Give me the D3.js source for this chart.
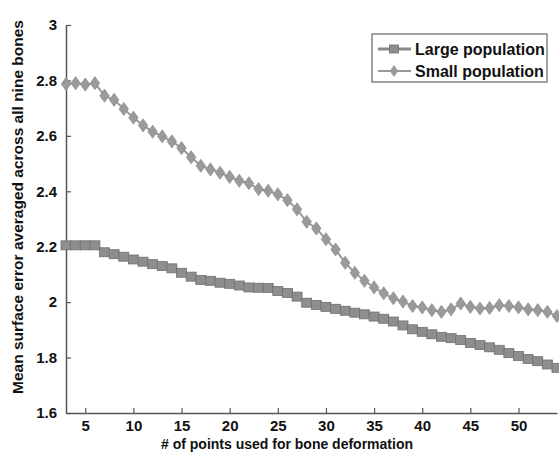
<!DOCTYPE html>
<html lang="en">
<head>
<meta charset="utf-8">
<title>Mean surface error</title>
<script src="https://cdnjs.cloudflare.com/ajax/libs/d3/7.8.5/d3.min.js"></script>
<style>
  body { margin: 0; background: #fff; }
  text { font-family: "Liberation Sans", Arial, sans-serif; font-weight: bold; fill: #111; }
</style>
</head>
<body>
<svg id="canvas" width="559" height="453"></svg>
<script>
// number of points used, 3..54
const points = d3.range(3, 55);

const largePop = [2.205, 2.205, 2.205, 2.205, 2.180, 2.173, 2.164, 2.154, 2.146, 2.137,
  2.130, 2.122, 2.106, 2.092, 2.080, 2.077, 2.070, 2.066, 2.060, 2.053,
  2.052, 2.051, 2.040, 2.033, 2.020, 1.998, 1.990, 1.983, 1.976, 1.969,
  1.962, 1.956, 1.948, 1.940, 1.930, 1.916, 1.902, 1.893, 1.884, 1.875,
  1.870, 1.863, 1.853, 1.845, 1.837, 1.828, 1.816, 1.806, 1.795, 1.787,
  1.775, 1.763];

const smallPop = [2.787, 2.790, 2.785, 2.790, 2.745, 2.730, 2.697, 2.666, 2.638, 2.615,
  2.598, 2.580, 2.556, 2.523, 2.492, 2.479, 2.467, 2.452, 2.438, 2.429,
  2.408, 2.402, 2.389, 2.368, 2.335, 2.290, 2.266, 2.227, 2.190, 2.142,
  2.106, 2.077, 2.053, 2.032, 2.014, 2.002, 1.986, 1.981, 1.971, 1.965,
  1.974, 1.995, 1.983, 1.977, 1.979, 1.989, 1.986, 1.981, 1.974, 1.971,
  1.965, 1.950];

const xTicks = [5, 10, 15, 20, 25, 30, 35, 40, 45, 50];
const yTicks = [1.6, 1.8, 2, 2.2, 2.4, 2.6, 2.8, 3];
const seriesNames = ["Large population", "Small population"];

const svg = d3.select("#canvas");

const x = d3.scaleLinear().domain([3, 54]).range([66, 557]);
const y = d3.scaleLinear().domain([1.6, 3]).range([413, 25]);

// axes (ticks pointing inward, matlab style)
const xAxis = d3.axisBottom(x).tickValues(xTicks).tickSizeInner(-5).tickSizeOuter(0).tickPadding(10);
const yAxis = d3.axisLeft(y).tickValues(yTicks).tickSizeInner(-5).tickSizeOuter(0).tickPadding(9)
  .tickFormat(d => d3.format("")(+d.toFixed(1)));

const gx = svg.append("g").attr("transform", "translate(0,413)").call(xAxis);
const gy = svg.append("g").attr("transform", "translate(66,0)").call(yAxis);
[gx, gy].forEach(g => {
  g.select(".domain").attr("stroke", "#555").attr("stroke-width", 1.5);
  g.selectAll(".tick line").attr("stroke", "#555").attr("stroke-width", 1.2);
  g.selectAll(".tick text").attr("font-size", 15).attr("fill", "#111")
    .attr("font-family", "Liberation Sans, Arial, sans-serif").attr("font-weight", "bold");
});
gx.selectAll(".tick text").attr("dy", "0.5em");

// axis titles
svg.append("text").attr("x", 287).attr("y", 449).attr("text-anchor", "middle")
  .attr("font-size", 14).text("# of points used for bone deformation");
svg.append("text").attr("transform", "translate(23,207) rotate(-90)").attr("text-anchor", "middle")
  .attr("font-size", 15.5).text("Mean surface error averaged across all nine bones");

const line = d3.line().x((d, i) => x(points[i])).y(d => y(d));

// large population: thick line, square markers
svg.append("path").datum(largePop).attr("d", line)
  .attr("fill", "none").attr("stroke", "#8a8a8a").attr("stroke-width", 3);
svg.append("g").selectAll("rect").data(largePop).join("rect")
  .attr("x", (d, i) => x(points[i]) - 5).attr("y", d => y(d) - 4.5)
  .attr("width", 10).attr("height", 9)
  .attr("fill", "#8e8e8e").attr("stroke", "#707070").attr("stroke-width", 0.8);

// small population: thin line, diamond markers
const diamond = d3.symbol().type(d3.symbolDiamond).size(50);
svg.append("path").datum(smallPop).attr("d", line)
  .attr("fill", "none").attr("stroke", "#999").attr("stroke-width", 2);
svg.append("g").selectAll("path").data(smallPop).join("path")
  .attr("d", diamond)
  .attr("transform", (d, i) => `translate(${x(points[i])},${y(d)}) scale(1.25,1)`)
  .attr("fill", "#9a9a9a").attr("stroke", "#8a8a8a").attr("stroke-width", 0.6);

// legend
const lg = svg.append("g");
lg.append("rect").attr("x", 372).attr("y", 34).attr("width", 175).attr("height", 48)
  .attr("fill", "#fff").attr("stroke", "#666").attr("stroke-width", 1.2);
seriesNames.forEach((name, k) => {
  const cy = 49 + k * 22;
  lg.append("line").attr("x1", 378).attr("x2", 411).attr("y1", cy).attr("y2", cy)
    .attr("stroke", k === 0 ? "#8a8a8a" : "#999").attr("stroke-width", k === 0 ? 3 : 2);
  if (k === 0) {
    lg.append("rect").attr("x", 389.5).attr("y", cy - 4).attr("width", 9).attr("height", 8)
      .attr("fill", "#8e8e8e").attr("stroke", "#707070").attr("stroke-width", 0.8);
  } else {
    lg.append("path").attr("d", diamond).attr("transform", `translate(394,${cy}) scale(1.1,0.9)`)
      .attr("fill", "#9a9a9a");
  }
  lg.append("text").attr("x", 415).attr("y", cy).attr("dy", "0.36em")
    .attr("font-size", 16).text(name);
});
</script>
</body>
</html>
